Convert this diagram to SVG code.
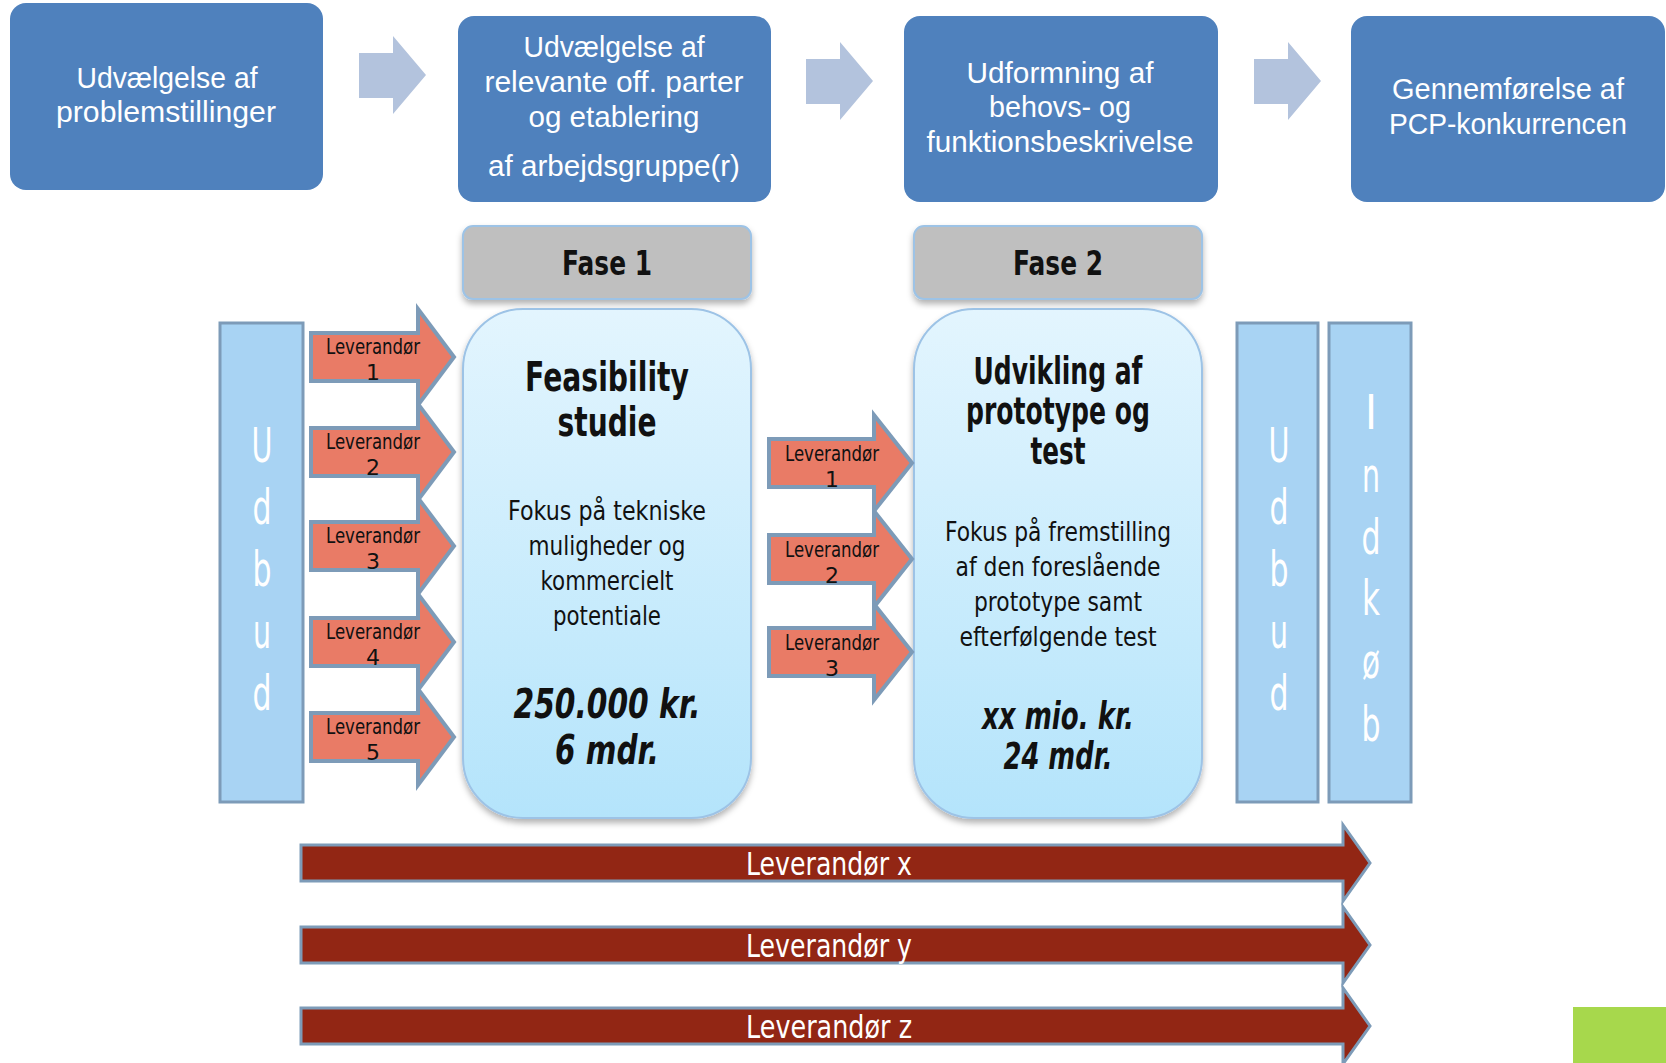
<svg xmlns="http://www.w3.org/2000/svg" width="1666" height="1063" viewBox="0 0 1666 1063">
<defs>
<linearGradient id="bg" x1="0" y1="0" x2="0" y2="1">
<stop offset="0" stop-color="#E3F5FE"/>
<stop offset="1" stop-color="#B4E4FB"/>
</linearGradient>
<filter id="sh" x="-10%" y="-10%" width="120%" height="125%">
<feDropShadow dx="0" dy="4" stdDeviation="3" flood-color="#000" flood-opacity="0.3"/>
</filter>
<style>
.box{fill:#4F81BD}
.bt{font-family:"Liberation Sans",Arial,sans-serif;font-size:29px;fill:#fff;text-anchor:middle}
.garr{fill:#B3C3DD}
.fase{fill:#BFBFBF;stroke:#9DC3E6;stroke-width:2}
.ft{font-family:"DejaVu Sans",sans-serif;font-weight:bold;font-size:34px;fill:#111;text-anchor:middle}
.big{fill:url(#bg);stroke:#9DC3E6;stroke-width:2}
.h{font-family:"DejaVu Sans",sans-serif;font-weight:bold;fill:#111;text-anchor:middle}
.b{font-family:"DejaVu Sans",sans-serif;font-size:26px;fill:#111;text-anchor:middle}
.bi{font-family:"DejaVu Sans",sans-serif;font-weight:bold;font-style:italic;fill:#111;text-anchor:middle}
.col{fill:#A8D3F3;stroke:#7D9BB8;stroke-width:3}
.ct{font-family:"DejaVu Sans",sans-serif;font-size:48px;fill:#fff;text-anchor:middle}
.oarr{fill:#E97B66;stroke:#7D9BB8;stroke-width:4;stroke-linejoin:miter}
.ot{font-family:"DejaVu Sans",sans-serif;font-size:22px;fill:#111;text-anchor:middle}
.rarr{fill:#922614;stroke:#7D9BB8;stroke-width:3}
.rt{font-family:"DejaVu Sans",sans-serif;font-size:32px;fill:#fff;text-anchor:middle}
</style>
</defs>
<rect width="1666" height="1063" fill="#fff"/>

<g id="step1">
<rect class="box" x="10" y="3" width="313" height="187" rx="16"/>
<text class="bt" x="167" y="88" textLength="181" lengthAdjust="spacingAndGlyphs">Udvælgelse af</text>
<text class="bt" x="166" y="122" textLength="220" lengthAdjust="spacingAndGlyphs">problemstillinger</text>
</g>
<g id="step2">
<rect class="box" x="458" y="16" width="313" height="186" rx="16"/>
<text class="bt" x="614" y="57" textLength="181" lengthAdjust="spacingAndGlyphs">Udvælgelse af</text>
<text class="bt" x="614" y="92" textLength="259" lengthAdjust="spacingAndGlyphs">relevante off. parter</text>
<text class="bt" x="614" y="127" textLength="171" lengthAdjust="spacingAndGlyphs">og etablering</text>
<text class="bt" x="614" y="176" textLength="252" lengthAdjust="spacingAndGlyphs">af arbejdsgruppe(r)</text>
</g>
<g id="step3">
<rect class="box" x="904" y="16" width="314" height="186" rx="16"/>
<text class="bt" x="1060" y="83" textLength="187" lengthAdjust="spacingAndGlyphs">Udformning af</text>
<text class="bt" x="1060" y="117" textLength="142" lengthAdjust="spacingAndGlyphs">behovs- og</text>
<text class="bt" x="1060" y="152" textLength="267" lengthAdjust="spacingAndGlyphs">funktionsbeskrivelse</text>
</g>
<g id="step4">
<rect class="box" x="1351" y="16" width="314" height="186" rx="16"/>
<text class="bt" x="1508" y="99" textLength="232" lengthAdjust="spacingAndGlyphs">Gennemførelse af</text>
<text class="bt" x="1508" y="134" textLength="238" lengthAdjust="spacingAndGlyphs">PCP-konkurrencen</text>
</g>

<g id="fase1-label">
<rect class="fase" x="463" y="226" width="288" height="73" rx="10" filter="url(#sh)"/>
<text class="ft" x="607" y="275" textLength="90" lengthAdjust="spacingAndGlyphs">Fase 1</text>
</g>
<g id="fase2-label">
<rect class="fase" x="914" y="226" width="288" height="73" rx="10" filter="url(#sh)"/>
<text class="ft" x="1058" y="275" textLength="90" lengthAdjust="spacingAndGlyphs">Fase 2</text>
</g>

<g id="fase1">
<rect class="big" x="463" y="309" width="288" height="509" rx="60" filter="url(#sh)"/>
<text class="h" x="607" y="391" font-size="41" textLength="164" lengthAdjust="spacingAndGlyphs">Feasibility</text>
<text class="h" x="607" y="436" font-size="41" textLength="99" lengthAdjust="spacingAndGlyphs">studie</text>
<text class="b" x="607" y="520" textLength="198" lengthAdjust="spacingAndGlyphs">Fokus på tekniske</text>
<text class="b" x="607" y="555" textLength="157" lengthAdjust="spacingAndGlyphs">muligheder og</text>
<text class="b" x="607" y="590" textLength="133" lengthAdjust="spacingAndGlyphs">kommercielt</text>
<text class="b" x="607" y="625" textLength="108" lengthAdjust="spacingAndGlyphs">potentiale</text>
<text class="bi" x="607" y="718" font-size="40" textLength="187" lengthAdjust="spacingAndGlyphs">250.000 kr.</text>
<text class="bi" x="607" y="764" font-size="40" textLength="104" lengthAdjust="spacingAndGlyphs">6 mdr.</text>
</g>
<g id="fase2">
<rect class="big" x="914" y="309" width="288" height="509" rx="60" filter="url(#sh)"/>
<text class="h" x="1058" y="384" font-size="37" textLength="169" lengthAdjust="spacingAndGlyphs">Udvikling af</text>
<text class="h" x="1058" y="424" font-size="37" textLength="184" lengthAdjust="spacingAndGlyphs">prototype og</text>
<text class="h" x="1058" y="464" font-size="37" textLength="55" lengthAdjust="spacingAndGlyphs">test</text>
<text class="b" x="1058" y="541" textLength="226" lengthAdjust="spacingAndGlyphs">Fokus på fremstilling</text>
<text class="b" x="1058" y="576" textLength="205" lengthAdjust="spacingAndGlyphs">af den foreslående</text>
<text class="b" x="1058" y="611" textLength="168" lengthAdjust="spacingAndGlyphs">prototype samt</text>
<text class="b" x="1058" y="646" textLength="197" lengthAdjust="spacingAndGlyphs">efterfølgende test</text>
<text class="bi" x="1058" y="729" font-size="37" textLength="152" lengthAdjust="spacingAndGlyphs">xx mio. kr.</text>
<text class="bi" x="1058" y="769" font-size="37" textLength="109" lengthAdjust="spacingAndGlyphs">24 mdr.</text>
</g>

<g id="udbud-left">
<rect class="col" x="220" y="323" width="83" height="479"/>
<text class="ct" x="262" y="462" textLength="21" lengthAdjust="spacingAndGlyphs">U</text>
<text class="ct" x="262" y="524" textLength="19" lengthAdjust="spacingAndGlyphs">d</text>
<text class="ct" x="262" y="586" textLength="19" lengthAdjust="spacingAndGlyphs">b</text>
<text class="ct" x="262" y="648" textLength="18" lengthAdjust="spacingAndGlyphs">u</text>
<text class="ct" x="262" y="710" textLength="19" lengthAdjust="spacingAndGlyphs">d</text>
</g>
<g id="udbud-right">
<rect class="col" x="1237" y="323" width="81" height="479"/>
<text class="ct" x="1279" y="462" textLength="21" lengthAdjust="spacingAndGlyphs">U</text>
<text class="ct" x="1279" y="524" textLength="19" lengthAdjust="spacingAndGlyphs">d</text>
<text class="ct" x="1279" y="586" textLength="19" lengthAdjust="spacingAndGlyphs">b</text>
<text class="ct" x="1279" y="648" textLength="18" lengthAdjust="spacingAndGlyphs">u</text>
<text class="ct" x="1279" y="710" textLength="19" lengthAdjust="spacingAndGlyphs">d</text>
</g>
<g id="indkob">
<rect class="col" x="1329" y="323" width="82" height="479"/>
<text class="ct" x="1371" y="429" font-family="Liberation Serif" textLength="12" lengthAdjust="spacingAndGlyphs">I</text>
<text class="ct" x="1371" y="492" textLength="18" lengthAdjust="spacingAndGlyphs">n</text>
<text class="ct" x="1371" y="554" textLength="19" lengthAdjust="spacingAndGlyphs">d</text>
<text class="ct" x="1371" y="615" textLength="18" lengthAdjust="spacingAndGlyphs">k</text>
<text class="ct" x="1371" y="678" textLength="18" lengthAdjust="spacingAndGlyphs">ø</text>
<text class="ct" x="1371" y="741" textLength="19" lengthAdjust="spacingAndGlyphs">b</text>
</g>

<g id="connectors">
<path class="garr" d="M359,53 H393 V36 L426,75 L393,114 V98 H359 Z"/>
<path class="garr" d="M806,59 H840 V42 L873,81 L840,120 V104 H806 Z"/>
<path class="garr" d="M1254,59 H1288 V42 L1321,81 L1288,120 V104 H1254 Z"/>

<path class="oarr" d="M311,333 H418 V309 L454,357 L418,405 V381 H311 Z"/>
<path class="oarr" d="M311,428 H418 V404 L454,452 L418,500 V476 H311 Z"/>
<path class="oarr" d="M311,522 H418 V498 L454,546 L418,594 V570 H311 Z"/>
<path class="oarr" d="M311,618 H418 V594 L454,642 L418,690 V666 H311 Z"/>
<path class="oarr" d="M311,713 H418 V689 L454,737 L418,785 V761 H311 Z"/>
<text class="ot" x="373" y="354" textLength="94" lengthAdjust="spacingAndGlyphs">Leverandør</text>
<text class="ot" x="373" y="380">1</text>
<text class="ot" x="373" y="449" textLength="94" lengthAdjust="spacingAndGlyphs">Leverandør</text>
<text class="ot" x="373" y="475">2</text>
<text class="ot" x="373" y="543" textLength="94" lengthAdjust="spacingAndGlyphs">Leverandør</text>
<text class="ot" x="373" y="569">3</text>
<text class="ot" x="373" y="639" textLength="94" lengthAdjust="spacingAndGlyphs">Leverandør</text>
<text class="ot" x="373" y="665">4</text>
<text class="ot" x="373" y="734" textLength="94" lengthAdjust="spacingAndGlyphs">Leverandør</text>
<text class="ot" x="373" y="760">5</text>

<path class="oarr" d="M769,439 H874 V415 L912,463 L874,511 V487 H769 Z"/>
<path class="oarr" d="M769,535 H874 V511 L912,559 L874,607 V583 H769 Z"/>
<path class="oarr" d="M769,628 H874 V604 L912,652 L874,700 V676 H769 Z"/>
<text class="ot" x="832" y="461" textLength="94" lengthAdjust="spacingAndGlyphs">Leverandør</text>
<text class="ot" x="832" y="487">1</text>
<text class="ot" x="832" y="557" textLength="94" lengthAdjust="spacingAndGlyphs">Leverandør</text>
<text class="ot" x="832" y="583">2</text>
<text class="ot" x="832" y="650" textLength="94" lengthAdjust="spacingAndGlyphs">Leverandør</text>
<text class="ot" x="832" y="676">3</text>

<path class="rarr" d="M301,845 H1343 V825 L1370,863 L1343,901 V881 H301 Z"/>
<path class="rarr" d="M301,927 H1343 V907 L1370,945 L1343,983 V963 H301 Z"/>
<path class="rarr" d="M301,1008 H1343 V988 L1370,1026 L1343,1064 V1044 H301 Z"/>
<text class="rt" x="829" y="875" textLength="166" lengthAdjust="spacingAndGlyphs">Leverandør x</text>
<text class="rt" x="829" y="957" textLength="166" lengthAdjust="spacingAndGlyphs">Leverandør y</text>
<text class="rt" x="829" y="1038" textLength="166" lengthAdjust="spacingAndGlyphs">Leverandør z</text>
</g>

<rect x="1573" y="1007" width="93" height="56" fill="#A7D84C"/>
</svg>
